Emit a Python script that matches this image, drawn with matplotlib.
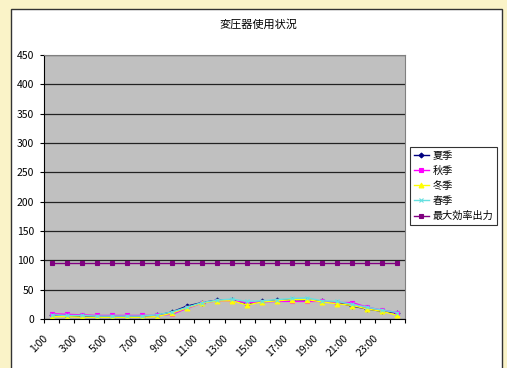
import matplotlib
matplotlib.use("Agg")
import matplotlib.pyplot as plt
from matplotlib.patches import Rectangle
from matplotlib.transforms import ScaledTranslation
import numpy as np

plt.rcParams['font.family'] = ['Noto Sans CJK JP', 'DejaVu Sans']

# 時刻 (1:00 - 24:00)
hours = ["%d:00" % h for h in range(1, 25)]

summer = [6, 5, 5, 4, 4, 4, 4, 6, 12, 22, 28, 32, 32, 25, 30, 32, 33, 32, 30, 28, 22, 17, 13, 10]
autumn = [9, 8, 7, 6, 6, 6, 6, 6, 8, 18, 27, 31, 31, 28, 29, 30, 30, 30, 30, 28, 28, 20, 15, 11]
winter = [4, 4, 3, 3, 3, 3, 3, 4, 10, 19, 27, 31, 31, 24, 29, 31, 33, 33, 29, 26, 23, 17, 13, 6]
spring = [7, 6, 6, 5, 5, 5, 5, 7, 12, 20, 28, 32, 34, 30, 31, 33, 35, 36, 31, 30, 25, 20, 15, 11]
max_eff = [96] * 24

series = [
    ("夏季", summer, "#000080", "D", 2.5),
    ("秋季", autumn, "#FF00FF", "s", 3),
    ("冬季", winter, "#FFFF00", "^", 3.5),
    ("春季", spring, "#66E0E0", "x", 3),
    ("最大効率出力", max_eff, "#800080", "s", 3),
]

fig = plt.figure(figsize=(5.07, 3.68), dpi=100)
fig.patch.set_facecolor("#FAF3C8")

# 白いグラフエリア
fig.patches.append(Rectangle((11 / 507, -0.05), (502 - 11) / 507, 1 - 9 / 368 + 0.05,
                             transform=fig.transFigure, facecolor="white",
                             edgecolor="#333333", linewidth=1.0, zorder=-1))

ax = fig.add_axes([44 / 507, 1 - 319 / 368, (405 - 44) / 507, (319 - 55) / 368], zorder=1)
ax.set_facecolor("#C0C0C0")

x = np.arange(len(hours))
for name, vals, col, mk, ms in series:
    ax.plot(x, vals, color=col, marker=mk, markersize=ms, linewidth=1.0,
            markeredgewidth=0.8, label=name)

ax.set_xlim(-0.5, len(hours) - 0.5)
ax.set_ylim(0, 450)
ax.set_yticks(range(0, 451, 50))
ax.yaxis.grid(True, color="#222222", linewidth=0.9)
ax.set_axisbelow(True)

ax.set_xticks(np.arange(-0.5, len(hours), 1), minor=False)
ax.set_xticklabels([])
ax.set_xticks(x[::2], minor=True)
ax.set_xticklabels(hours[::2], minor=True, rotation=45, ha="right",
                   rotation_mode="anchor", fontsize=7.5)
ax.tick_params(axis="x", which="minor", length=0, pad=8)
ax.tick_params(axis="x", which="major", length=3, direction="out")
ax.tick_params(axis="y", length=3, direction="out", labelsize=7.5, pad=4)

# ラベルを少し左下へずらす
shift = ScaledTranslation(-9 / 100, -3 / 100, fig.dpi_scale_trans)
for lab in ax.get_xticklabels(minor=True):
    lab.set_transform(lab.get_transform() + shift)

for side in ["top", "right"]:
    ax.spines[side].set_color("#808080")
for side in ["left", "bottom"]:
    ax.spines[side].set_color("#000000")

fig.text(258 / 507, 1 - 25 / 368, "変圧器使用状況", ha="center", va="center", fontsize=8)

leg = ax.legend(loc="center left", bbox_to_anchor=(1.014, 0.504), fontsize=7.3,
                frameon=True, fancybox=False, edgecolor="black", borderpad=0.35,
                handlelength=1.5, handletextpad=0.35, labelspacing=0.5,
                borderaxespad=0)
leg.get_frame().set_linewidth(0.8)

fig.savefig("out.png", dpi=100)
